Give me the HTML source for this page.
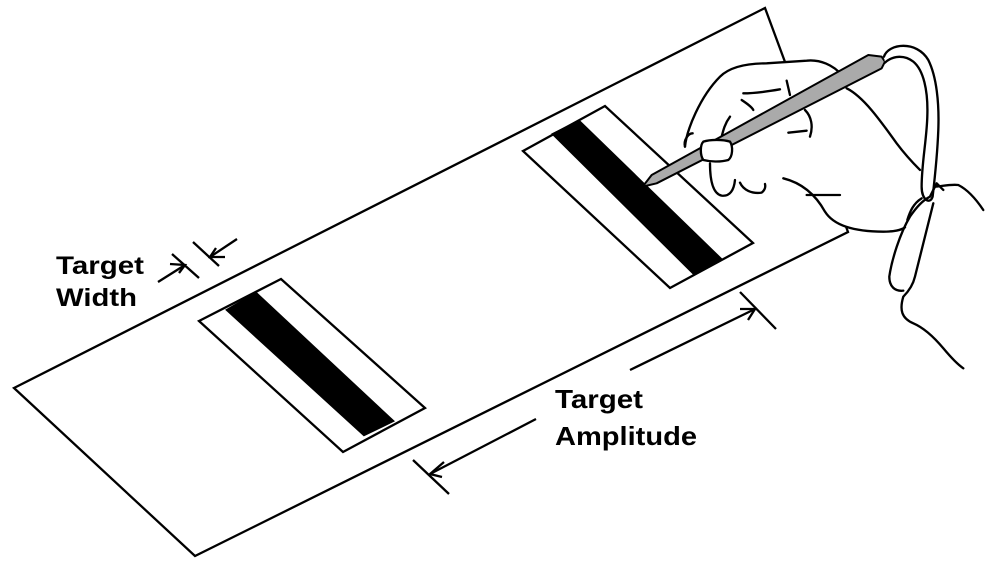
<!DOCTYPE html>
<html><head><style>
html,body{margin:0;padding:0;background:#fff;}
svg{display:block;}
text{font-family:"Liberation Sans",Arial,sans-serif;font-weight:bold;fill:#000;}
</style></head><body>
<svg width="1000" height="568" viewBox="0 0 1000 568" xmlns="http://www.w3.org/2000/svg">
<g fill="none" stroke="#000" stroke-width="2.3" stroke-linejoin="miter">
  <polygon points="14,388 765,8 848,232 195,556" fill="#fff"/>
  <polygon points="199,321 281,279 425,408 343,452" fill="#fff"/>
  <polygon points="227,310 256,293 393,421 364,435" fill="#000"/>
  <polygon points="523,151 605,106 753,243 670,288" fill="#fff"/>
  <polygon points="553,134 579,121 721,259 694,274" fill="#000"/>
  <line x1="172" y1="254" x2="199" y2="278"/>
  <line x1="158" y1="282" x2="185" y2="265"/>
  <polyline points="170,264 185,265 179,273"/>
  <line x1="193" y1="242" x2="219" y2="266"/>
  <line x1="237" y1="239" x2="210" y2="257"/>
  <polyline points="225,257 210,257 216,248"/>
  <line x1="630" y1="370" x2="755" y2="309"/>
  <line x1="740" y1="292" x2="776" y2="329"/>
  <polyline points="740,309 755,309 748,320"/>
  <line x1="536" y1="419" x2="430" y2="474"/>
  <line x1="413" y1="460" x2="449" y2="494"/>
  <polyline points="444,462 430,474 442,477"/>
</g>
<text x="56" y="274" font-size="25" textLength="88" lengthAdjust="spacingAndGlyphs">Target</text>
<text x="56" y="306" font-size="25" textLength="81" lengthAdjust="spacingAndGlyphs">Width</text>
<text x="555" y="408" font-size="26" textLength="88" lengthAdjust="spacingAndGlyphs">Target</text>
<text x="555" y="445" font-size="26" textLength="142" lengthAdjust="spacingAndGlyphs">Amplitude</text>
<g transform="translate(620,30) scale(0.3333)" fill="none" stroke="#000" stroke-width="7" stroke-linecap="round" stroke-linejoin="round">
  <polygon points="200,340 240,220 300,140 440,100 560,92 665,135 730,200 830,340 905,425 930,500 870,560 855,592 790,605 700,600 640,580 615,545 560,470 490,445 345,450 270,400 240,360" fill="#fff" stroke="none"/>
  <path d="M195,350 C200,300 240,200 300,140 C330,110 380,100 440,100 L560,92 C600,88 640,105 665,135"/>
  <path d="M680,175 C730,200 780,270 830,340 C860,380 880,400 900,420"/>
  <path d="M490,445 C550,460 590,500 615,545 C640,585 700,605 790,605 C820,605 845,600 855,592"/>
  <path d="M560,495 L660,495"/>
  <path d="M195,350 C190,330 205,310 218,310"/>
  <path d="M370,190 C400,190 440,185 480,178"/>
  <path d="M365,210 C380,220 395,230 400,240"/>
  <path d="M500,152 L510,195"/>
  <path d="M505,308 L560,302"/>
  <path d="M555,240 C575,260 580,290 570,320"/>
  <path d="M330,260 C315,280 310,300 305,320"/>
  <path d="M270,400 C270,440 275,490 305,497 C330,500 342,480 345,450" fill="#fff"/>
  <path d="M360,458 C370,480 395,492 425,488 C435,480 437,470 435,462" fill="#fff"/>
  <polygon points="68,470 95,435 745,75 785,80 795,95 785,115 110,460" fill="#aaa" stroke-width="6"/>
  <path d="M250,335 C270,328 310,328 330,335 C340,350 338,380 325,390 C300,397 270,395 250,390 C240,375 240,345 250,335 Z" fill="#fff"/>
  <path d="M792,80 C805,40 890,30 925,90 C950,140 958,220 955,300 C952,380 945,440 938,500 C930,525 905,510 905,470 C905,400 920,330 922,260 C925,180 910,120 880,95 C855,75 820,75 795,98" fill="#fff"/>
  <path d="M850,782 C825,785 808,770 808,740 C815,690 840,610 870,560 C890,530 910,510 930,500 L950,460 L970,480"/>
  <path d="M945,470 C960,470 990,462 1015,465 C1045,480 1070,510 1090,540"/>
  <path d="M940,520 C920,600 900,680 885,740 C878,770 860,790 850,800 C838,840 845,865 880,880 C915,895 945,925 970,955 C995,985 1015,1005 1030,1015"/>
  <path d="M905,505 C880,520 870,545 862,570"/>
</g>
</svg>
</body></html>
